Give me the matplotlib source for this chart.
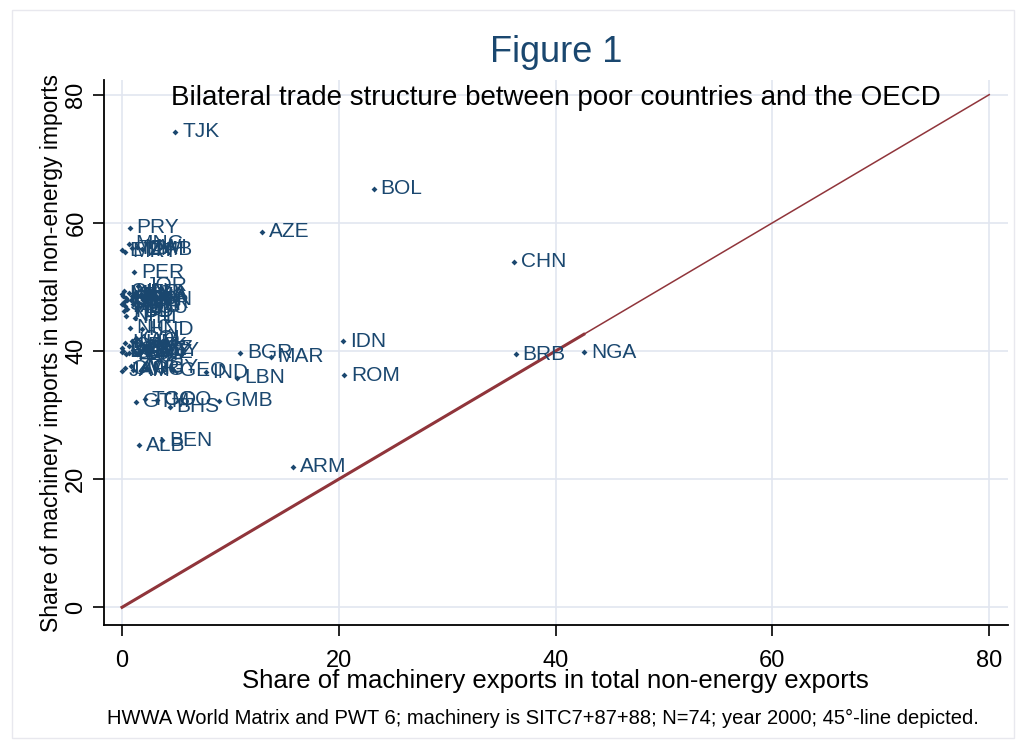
import matplotlib
matplotlib.use("Agg")
import matplotlib.pyplot as plt
from matplotlib.patches import Rectangle

plt.rcParams['font.family'] = ['Liberation Sans', 'DejaVu Sans']

# country codes, machinery export share (x), machinery import share (y)
codes = ["TJK", "BOL", "PRY", "AZE", "CHN", "MNG", "ETH", "TZA", "MWI", "ZMB",
         "PER", "JOR", "UGA", "KEN", "LKA", "SEN", "GHA", "CIV", "MLI", "NER",
         "BFA", "MDG", "SYR", "TUN", "HTI", "SDN", "NPL", "PHL", "NIC", "HND",
         "COL", "LAO", "PAK", "KHM", "DOM", "DZA", "VEN", "SLV", "SWZ", "EGY",
         "YEM", "MOZ", "BGD", "KGZ", "JAM", "CMR", "ARG", "GUY", "GEO", "IND",
         "LBN", "BGR", "MAR", "IDN", "ROM", "BRB", "NGA", "GMB", "BHS", "GTM",
         "TGO", "CGO", "ALB", "BEN", "ARM", "ZWE", "GIN", "RWA", "BDI", "ECU",
         "TCD", "CAF", "LSO", "MRT"]
exp_share = [4.9, 23.2, 0.7, 12.9, 36.2, 0.6, 0.0, 0.9, 1.4, 1.8,
             1.1, 1.5, 1.2, 0.1, 0.4, 0.8, 1.3, 0.2, 0.0, 0.6,
             1.0, 0.3, 1.6, 1.9, 0.5, 0.0, 0.4, 1.2, 0.7, 1.8,
             1.3, 0.9, 1.7, 0.3, 0.0, 0.1, 1.2, 0.6, 1.0, 2.4,
             0.4, 1.6, 0.0, 2.0, 0.0, 0.3, 1.0, 2.2, 4.7, 7.7,
             10.6, 10.9, 13.7, 20.4, 20.5, 36.3, 42.6, 8.9, 4.4, 1.3,
             2.1, 3.2, 1.6, 3.7, 15.8, 0.8, 0.2, 0.9, 0.5, 1.4,
             0.2, 0.6, 1.4, 0.3]
imp_share = [74.2, 65.3, 59.2, 58.6, 53.9, 56.7, 55.7, 56.0, 56.2, 55.9,
             52.3, 50.2, 49.0, 48.6, 48.2, 47.9, 48.3, 47.6, 48.9, 49.1,
             47.3, 47.0, 47.5, 48.0, 46.6, 47.3, 45.5, 45.2, 43.6, 43.4,
             42.0, 41.6, 40.9, 41.3, 40.5, 40.0, 39.9, 39.7, 40.2, 40.1,
             39.5, 39.8, 39.9, 40.4, 36.9, 37.3, 37.1, 37.4, 37.0, 36.7,
             35.8, 39.7, 39.1, 41.5, 36.2, 39.5, 39.8, 32.2, 31.3, 32.1,
             32.5, 32.4, 25.3, 26.1, 21.9, 37.6, 49.3, 48.6, 48.0, 46.8,
             46.2, 40.8, 39.6, 55.5]

ticks = [0, 20, 40, 60, 80]
navy = "#1a476f"
maroon = "#90353b"
grid_col = "#e2e6f0"

fig = plt.figure(figsize=(10.23, 7.47), dpi=100)
ax = fig.add_axes([0.1017, 0.163, 0.8833, 0.730])

ax.set_xlim(-1.66, 81.7)
ax.set_ylim(-2.8, 82.3)
ax.set_xticks(ticks)
ax.set_yticks(ticks)
ax.grid(True, color=grid_col, linewidth=1.2)
ax.set_axisbelow(True)
for s in ["top", "right"]:
    ax.spines[s].set_visible(False)
ax.spines["left"].set_linewidth(1.3)
ax.spines["bottom"].set_linewidth(1.3)
ax.tick_params(axis="both", direction="out", length=8, width=1.2, labelsize=17)
ax.tick_params(axis="x", pad=10)
ax.tick_params(axis="y", pad=4)
plt.setp(ax.get_yticklabels(), rotation=90, va="center")

# 45 degree line (drawn heavier over the data range)
ax.plot([0, max(exp_share)], [0, max(exp_share)], color=maroon, lw=2.2, zorder=2)
ax.plot([0, 80], [0, 80], color=maroon, lw=1.1, zorder=2)

ax.scatter(exp_share, imp_share, marker="D", s=9, color=navy, zorder=3, linewidths=0)
for c, x, y in zip(codes, exp_share, imp_share):
    ax.annotate(c, (x, y), xytext=(5, 0), textcoords="offset points",
                va="center", ha="left", fontsize=15, color=navy, zorder=4)

ax.set_xlabel("Share of machinery exports in total non-energy exports", fontsize=18.5, labelpad=-2)
ax.set_ylabel("Share of machinery imports in total non-energy imports", fontsize=16.5, labelpad=2)

fig.text(0.5435, 0.930, "Figure 1", ha="center", va="center", fontsize=26, color=navy)
fig.text(0.5435, 0.869, "Bilateral trade structure between poor countries and the OECD",
         ha="center", va="center", fontsize=20, color="black")
fig.text(0.105, 0.038, "HWWA World Matrix and PWT 6; machinery is SITC7+87+88; N=74; year 2000; 45\u00b0-line depicted.",
         ha="left", va="center", fontsize=14.5, color="black")

fig.add_artist(Rectangle((0.012, 0.012), 0.979, 0.975, transform=fig.transFigure,
                         fill=False, edgecolor="#e8e8ee", linewidth=1))

fig.savefig("out.png", dpi=100)
